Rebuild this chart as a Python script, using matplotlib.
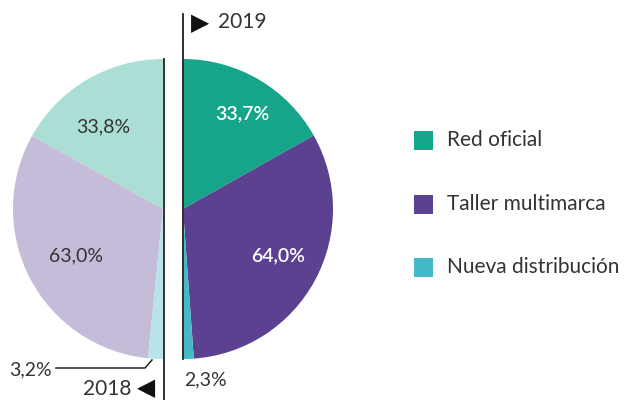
import matplotlib
matplotlib.use("Agg")
import matplotlib.pyplot as plt

categories = ["Red oficial", "Taller multimarca", "Nueva distribución"]
values_2019 = [33.7, 64.0, 2.3]
values_2018 = [33.8, 63.0, 3.2]
labels_2019 = ["33,7%", "64,0%", "2,3%"]
labels_2018 = ["33,8%", "63,0%", "3,2%"]
years = ["2018", "2019"]

colors_2019 = ["#16a58a", "#5b4190", "#44b9c7"]
colors_2018 = ["#abded5", "#c5bcd9", "#b8e3ea"]

plt.rcParams["font.family"] = ["Lato", "DejaVu Sans"]
TXT = "#333333"

fig = plt.figure(figsize=(6.24, 4.0), dpi=100)
ax = fig.add_axes([0, 0, 1, 1])

R = 150
c19 = (183, 191)
c18 = (163, 191)

# 2019: right half, clockwise from the top; the blank wedge fills the unused half
w19, _ = ax.pie(values_2019 + [sum(values_2019)], radius=R, center=c19,
                startangle=90, counterclock=False,
                colors=colors_2019 + ["none"], frame=True)
# 2018: left half, counter-clockwise from the top
w18, _ = ax.pie(values_2018 + [sum(values_2018)], radius=R, center=c18,
                startangle=90, counterclock=True,
                colors=colors_2018 + ["none"], frame=True)
for w in w19 + w18:
    w.set_linewidth(0)

ax.set_xlim(0, 624)
ax.set_ylim(0, 400)
ax.set_aspect("equal")
ax.axis("off")

# dividing lines
ax.plot([c19[0] - 0.5, c19[0] - 0.5], [c19[1] - R, 386], color="#222222", lw=1.3)
ax.plot([c18[0] + 0.5, c18[0] + 0.5], [c18[1] + R, 0], color="#222222", lw=1.3)

# year markers
ax.text(191, 377, "\u25B6", fontsize=17, color="#111111", va="center", ha="left",
        family=["DejaVu Sans"])
ax.text(218, 378, years[1], fontsize=15, color=TXT, va="center", ha="left")
ax.text(131, 11, years[0], fontsize=15, color=TXT, va="center", ha="right")
ax.text(155, 12, "\u25C0", fontsize=17, color="#111111", va="center", ha="right",
        family=["DejaVu Sans"])

# value labels
fs = 14
ax.text(242, 286, labels_2019[0], fontsize=fs, color="white", ha="center", va="center",
        fontweight="semibold")
ax.text(278, 144, labels_2019[1], fontsize=fs, color="white", ha="center", va="center",
        fontweight="semibold")
ax.text(205, 20, labels_2019[2], fontsize=fs, color=TXT, ha="center", va="center")
ax.text(103, 273, labels_2018[0], fontsize=fs, color=TXT, ha="center", va="center")
ax.text(76, 144, labels_2018[1], fontsize=fs, color=TXT, ha="center", va="center")
ax.text(52, 30, labels_2018[2], fontsize=fs, color=TXT, ha="right", va="center")
ax.plot([152, 145, 56], [40, 32, 32], color="#222222", lw=1.1)

# legend
leg_y = [260, 196, 133]
for cat, col, y in zip(categories, colors_2019, leg_y):
    ax.add_patch(plt.Rectangle((414, y - 9.5), 19, 19, color=col, lw=0))
    ax.text(447, y, cat, fontsize=15, color=TXT, ha="left", va="center")

fig.savefig("out.png", dpi=100)
